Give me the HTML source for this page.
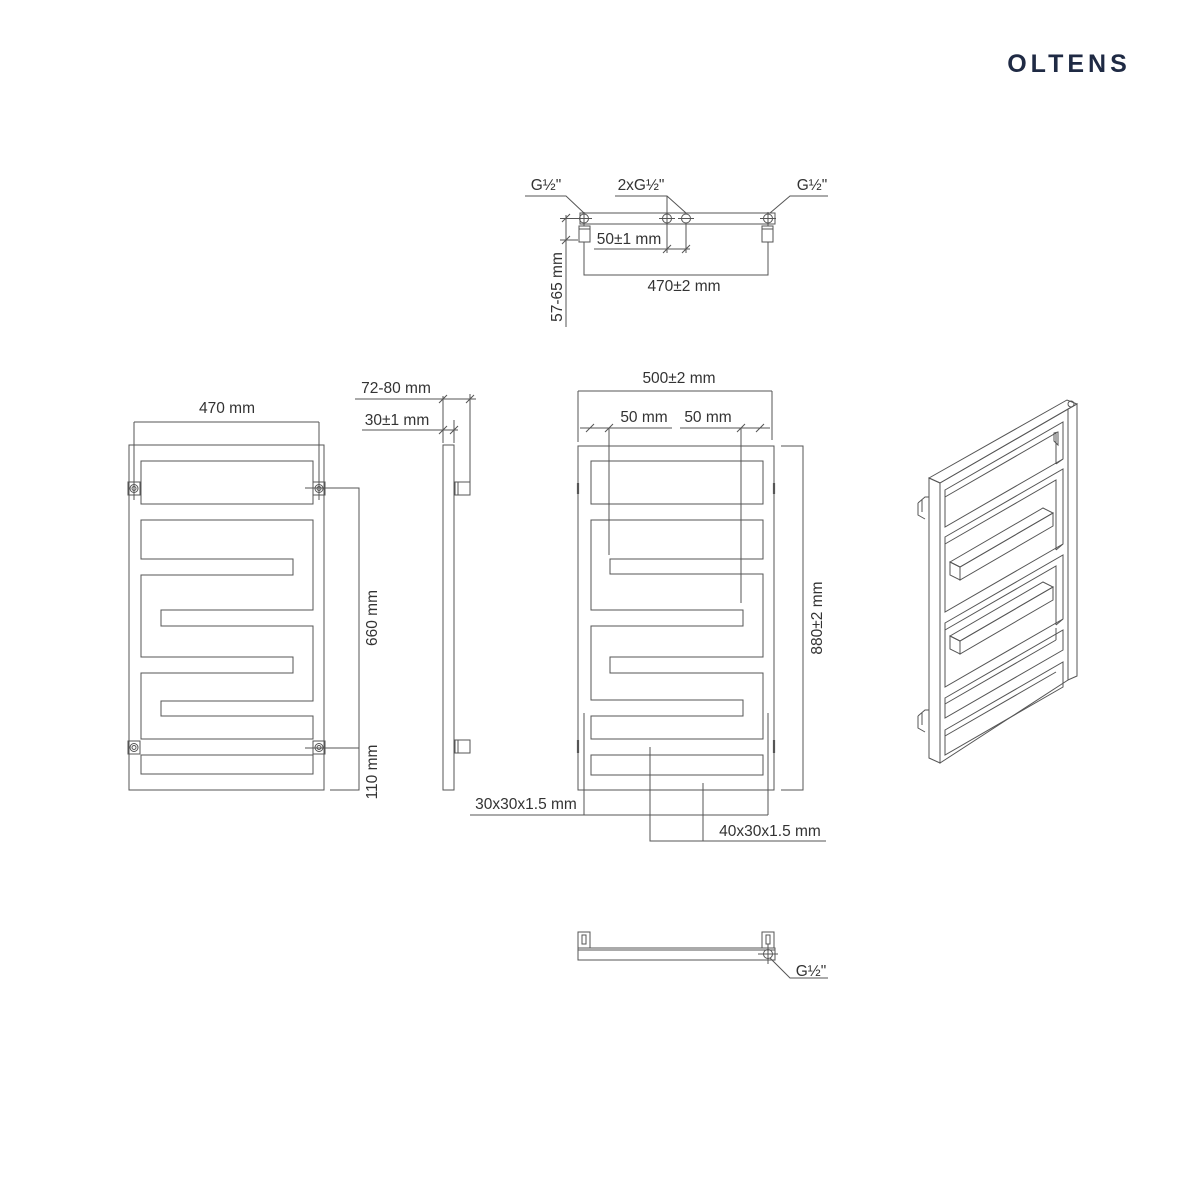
<!DOCTYPE html>
<html><head><meta charset="utf-8"><style>
html,body{margin:0;padding:0;background:#fff}
svg{display:block}
text{font-family:"Liberation Sans",sans-serif;font-size:15.5px;fill:#333}
</style></head><body>
<svg width="1200" height="1200" viewBox="0 0 1200 1200" xmlns="http://www.w3.org/2000/svg">
<rect width="1200" height="1200" fill="#fff"/>
<text x="1069" y="72" text-anchor="middle" style="font-size:25px;font-weight:bold;fill:#1f2a44;letter-spacing:4px">OLTENS</text>

<g fill="none" stroke="#555" stroke-width="1">
<!-- LEFT VIEW -->
<rect x="129" y="445" width="195" height="345"/>
<rect x="141" y="461" width="172" height="43"/>
<polygon points="141,520 313,520 313,610 161,610 161,626 313,626 313,701 161,701 161,716 313,716 313,739 141,739 141,673 293,673 293,657 141,657 141,575 293,575 293,559 141,559"/>
<rect x="141" y="755" width="172" height="19"/>
<g>
<rect x="128" y="482" width="12" height="13"/><circle cx="134" cy="488.5" r="4"/><circle cx="134" cy="488.5" r="2"/>
<rect x="313" y="482" width="12" height="13"/><circle cx="319" cy="488.5" r="4"/><circle cx="319" cy="488.5" r="2"/>
<rect x="128" y="741" width="12" height="13"/><circle cx="134" cy="747.5" r="4"/><circle cx="134" cy="747.5" r="2"/>
<rect x="313" y="741" width="12" height="13"/><circle cx="319" cy="747.5" r="4"/><circle cx="319" cy="747.5" r="2"/>
</g>
<path d="M134 422H319M134 422V500M319 422V500"/>
<path d="M305 488H359V748H305M359 748V790H330"/>
<!-- SIDE VIEW -->
<rect x="443" y="445" width="11" height="345"/>
<rect x="455" y="482" width="15" height="13"/><path d="M458 482V495"/>
<rect x="455" y="740" width="15" height="13"/><path d="M458 740V753"/>
<path d="M355 399H476M362 430H458M443 396V443M454 420V443M470 394V482"/>
<path d="M439 403L447 395M466 403L474 395M439 434L447 426M450 434L458 426"/>
<!-- FRONT VIEW -->
<rect x="578" y="446" width="196" height="344"/>
<rect x="591" y="461" width="172" height="43"/>
<polygon points="591,520 763,520 763,559 610,559 610,574 763,574 763,657 610,657 610,673 763,673 763,739 591,739 591,716 743,716 743,700 591,700 591,626 743,626 743,610 591,610"/>
<rect x="591" y="755" width="172" height="20"/>
<path d="M578 483V494M774 483V494M578 740V753M774 740V753" stroke-width="2.2"/>
<path d="M578 391H772M578 391V442M772 391V440"/>
<path d="M580 428H672M680 428H770M609 428V555M741 428V603"/>
<path d="M586 432L594 424M605 432L613 424M737 432L745 424M756 432L764 424"/>
<path d="M781 446H803V790H781"/>
<path d="M584 713V815M768 713V815M470 815H768M650 747V841H826M703 783V841"/>
<!-- TOP VIEW -->
<rect x="580" y="213" width="195" height="11"/>
<circle cx="584" cy="218.5" r="4.5"/><circle cx="667" cy="218.5" r="4.5"/><circle cx="686" cy="218.5" r="4.5"/><circle cx="768" cy="218.5" r="4.5"/>
<path d="M576 218.5H592M584 212V226M659 218.5H675M678 218.5H694M760 218.5H776M768 212V226"/>
<rect x="579" y="226" width="11" height="16"/><path d="M579 229H590"/>
<rect x="762" y="226" width="11" height="16"/><path d="M762 229H773"/>
<path d="M525 196H566L584 213M615 196H667L686 213M828 196H790L770 213"/>
<path d="M667 196V253M686 224V253M594 249H690M663 253L671 245M682 253L690 245"/>
<path d="M584 242V275H768V242"/>
<path d="M566 215V327M560 218.5H578M560 240H578M562 222L570 214M562 244L570 236"/>
<!-- BOTTOM VIEW -->
<rect x="578" y="948" width="197" height="12"/><path d="M578 950H775"/>
<rect x="578" y="932" width="12" height="16"/><rect x="582" y="935" width="4" height="9"/>
<rect x="762" y="932" width="12" height="16"/><rect x="766" y="935" width="4" height="9"/>
<circle cx="768" cy="954" r="4.5"/><path d="M758 954H778M768 944V964M770 958L790 978H828"/>
<!-- 3D VIEW -->
<polygon points="929,478 1067,400 1077,404 940,483"/>
<polygon points="929,478 940,483 940,763 929,758"/>
<polygon points="940,483 1068,409 1068,680 940,763"/>
<polygon points="1068,409 1077,404 1077,676 1068,680"/>
<circle cx="1071" cy="404" r="3"/>
<polygon points="945,490 1063,422 1063,459 945,527"/><path d="M945,497 1056,433 1056,464M1056 464L1063 459"/>
<polygon points="945,537 1063,469 1063,544 945,612"/><path d="M945,544 1056,480 1056,550M1056 550L1063 544"/>
<polygon points="945,623 1063,555 1063,619 945,687"/><path d="M945,630 1056,566 1056,625M1056 625L1063 619"/>
<polygon points="945,698 1063,630 1063,650 945,718"/><path d="M945,704 1056,640"/>
<polygon points="945,730 1063,662 1063,687 945,755"/><path d="M945,736 1056,672"/>
<polygon points="950,562 1043,508 1053,513 960,567"/><polygon points="950,562 960,567 960,580 950,575"/><polygon points="960,567 1053,513 1053,526 960,580"/>
<polygon points="950,636 1043,582 1053,587 960,641"/><polygon points="950,636 960,641 960,654 950,649"/><polygon points="960,641 1053,587 1053,600 960,654"/>
<path d="M1058 432V445L1054 441V433ZM1056 628V640"/>
<path d="M918 503L925 497H929M918 503V515L925 519M922 500V512"/>
<path d="M918 716L925 710H929M918 716V728L925 732M922 713V725"/>
</g>

<g>
<text x="227" y="413" text-anchor="middle">470 mm</text>
<text transform="translate(377,618) rotate(-90)" text-anchor="middle">660 mm</text>
<text transform="translate(377,772) rotate(-90)" text-anchor="middle">110 mm</text>
<text x="396" y="393" text-anchor="middle">72-80 mm</text>
<text x="397" y="425" text-anchor="middle">30±1 mm</text>
<text x="679" y="383" text-anchor="middle">500±2 mm</text>
<text x="644" y="422" text-anchor="middle">50 mm</text>
<text x="708" y="422" text-anchor="middle">50 mm</text>
<text transform="translate(822,618) rotate(-90)" text-anchor="middle">880±2 mm</text>
<text x="526" y="809" text-anchor="middle">30x30x1.5 mm</text>
<text x="770" y="836" text-anchor="middle">40x30x1.5 mm</text>
<text x="546" y="190" text-anchor="middle">G½"</text>
<text x="641" y="190" text-anchor="middle">2xG½"</text>
<text x="812" y="190" text-anchor="middle">G½"</text>
<text x="629" y="244" text-anchor="middle">50±1 mm</text>
<text x="684" y="291" text-anchor="middle">470±2 mm</text>
<text transform="translate(562,287) rotate(-90)" text-anchor="middle">57-65 mm</text>
<text x="811" y="976" text-anchor="middle">G½"</text>
</g>
</svg>
</body></html>
